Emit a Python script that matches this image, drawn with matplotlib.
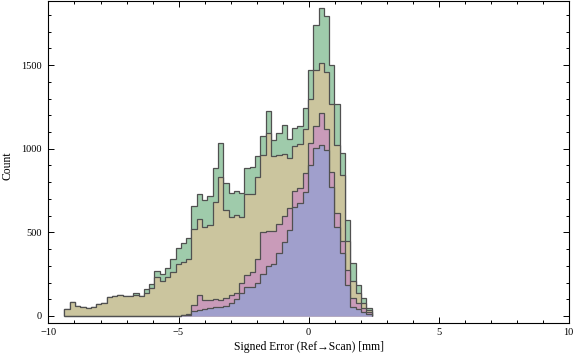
import numpy as np
import matplotlib
matplotlib.use("Agg")
import matplotlib.pyplot as plt
from matplotlib.ticker import MultipleLocator

plt.rcParams['font.family'] = ['Liberation Serif', 'DejaVu Serif']

# histogram bins (58 bins)
bin_start = -9.39
bin_width = 0.2037

# bin heights of each layer
green = [40, 84, 58, 52, 46, 54, 70, 78, 112, 118, 124, 118, 118, 136, 121, 160, 189, 266, 251, 285,
         342, 404, 434, 464, 655, 732, 695, 715, 882, 1032, 793, 733, 750, 737, 882, 888, 956, 1075, 1225, 1051,
         1095, 1139, 1055, 1121, 1133, 1246, 1468, 1742, 1844, 1792, 1499, 1267, 977, 571, 315, 183, 106, 46]
tan = [40, 84, 58, 52, 46, 54, 70, 78, 112, 118, 124, 118, 118, 128, 121, 136, 165, 231, 209, 235,
       265, 311, 321, 338, 517, 578, 529, 542, 680, 832, 631, 592, 602, 589, 727, 727, 828, 962, 1095, 956,
       962, 966, 942, 1018, 1030, 1117, 1300, 1468, 1514, 1458, 1270, 1021, 845, 451, 210, 140, 76, 38]
pink = [0, 0, 0, 0, 0, 0, 0, 0, 0, 0, 0, 0, 0, 0, 0, 0, 0, 0, 0, 0,
        0, 0, 8, 14, 68, 123, 96, 98, 102, 94, 106, 125, 139, 195, 245, 261, 339, 500, 505, 505,
        548, 598, 643, 748, 768, 852, 1035, 1135, 1211, 1120, 858, 613, 450, 275, 106, 76, 46, 22]
blue = [0, 0, 0, 0, 0, 0, 0, 0, 0, 0, 0, 0, 0, 0, 0, 0, 0, 0, 0, 0,
        0, 0, 6, 8, 32, 36, 40, 46, 52, 56, 62, 75, 100, 137, 172, 175, 200, 250, 300, 312,
        375, 444, 516, 650, 675, 740, 902, 1005, 1025, 995, 773, 534, 378, 185, 56, 40, 24, 14]

layers = [green, tan, pink, blue]
colors = ['#9fcbab', '#cbc59e', '#c99bb9', '#a09fcc']

edges = bin_start + bin_width * np.arange(len(green) + 1)

fig = plt.figure(figsize=(5.76, 3.62), dpi=100)
ax = fig.add_axes([0.0842, 0.1064, 0.9028, 0.8922])

for vals, c in zip(layers, colors):
    ax.stairs(vals, edges, baseline=0, fill=True, facecolor=c,
              edgecolor='#505050', linewidth=0.9)

ax.set_xlim(-10, 10)
ax.set_ylim(-45, 1886)

ax.xaxis.set_major_locator(MultipleLocator(5))
ax.xaxis.set_minor_locator(MultipleLocator(1))
ax.yaxis.set_major_locator(MultipleLocator(500))
ax.yaxis.set_minor_locator(MultipleLocator(100))
ax.tick_params(which='both', direction='in', top=True, right=True, width=0.7, labelsize=7.5)
ax.tick_params(which='major', length=4)
ax.tick_params(which='minor', length=2.3)
ax.tick_params(axis='x', pad=3)
ax.tick_params(axis='y', pad=5)
for s in ax.spines.values():
    s.set_linewidth(0.8)

ax.set_xlabel("Signed Error (Ref\u2192Scan) [mm]", fontsize=8.4)
ax.set_ylabel("Count", fontsize=8.4)
ax.xaxis.set_label_coords(0.5, -0.055)
ax.yaxis.set_label_coords(-0.068, 0.49)

plt.savefig("out.png", dpi=100)
